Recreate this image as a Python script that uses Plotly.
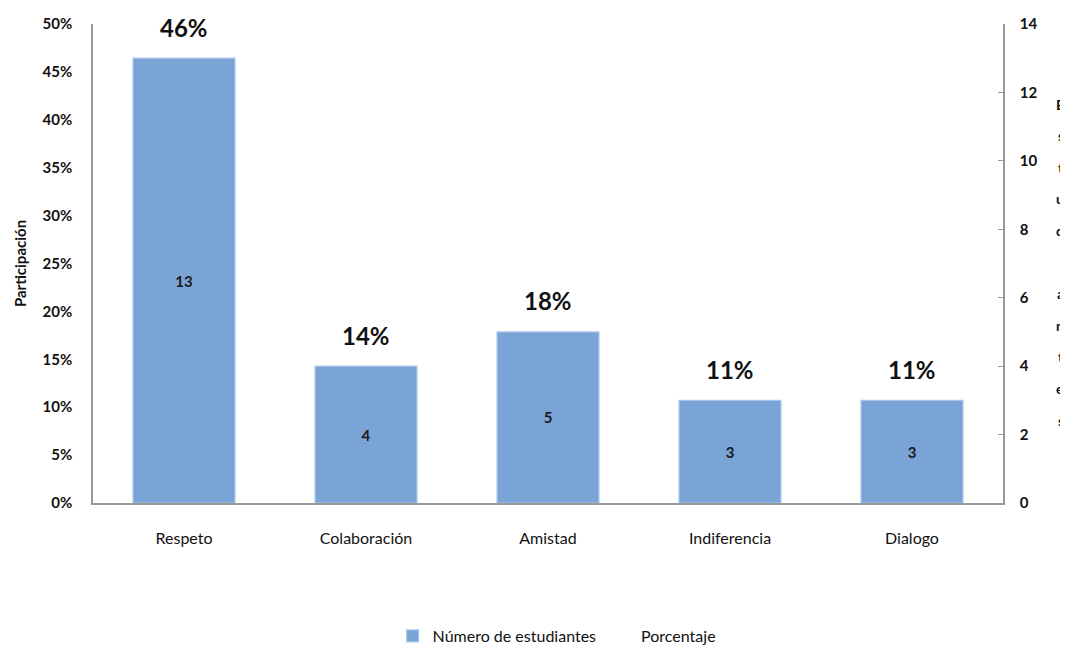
import plotly.graph_objects as go

categories = ["Respeto", "Colaboración", "Amistad", "Indiferencia", "Dialogo"]
students = [13, 4, 5, 3, 3]
total = sum(students)
percent = [s / total for s in students]
percent_labels = ["46%", "14%", "18%", "11%", "11%"]
right_title = "Estudiantes"

FONT = "Lato, 'Open Sans', sans-serif"
BAR = "#7aa3d6"

# page body has an 8px margin; figure sized to fit the 1068x645 window
OFF = 8
W, H = 1068 - OFF, 645 - OFF
ml, mr, mt, mb = 93 - OFF, 65, 24 - OFF, 142
pw, ph = W - ml - mr, H - mt - mb

fig = go.Figure()
fig.add_trace(go.Bar(
    x=categories, y=students, yaxis="y2", name="Número de estudiantes",
    marker=dict(color=BAR, line=dict(color="#a9c6ea", width=1.2)),
    width=0.56,
    text=[str(s) for s in students], textposition="inside",
    insidetextanchor="middle",
    textfont=dict(family=FONT, size=15, color="#1a1a1a", weight="bold"),
))
fig.add_trace(go.Scatter(
    x=categories, y=percent, yaxis="y", name="Porcentaje",
    mode="lines", line=dict(color="rgba(0,0,0,0)", width=0),
    hoverinfo="skip",
))

for c, p, lab in zip(categories, percent, percent_labels):
    fig.add_annotation(x=c, y=p, xref="x", yref="y", text=lab, showarrow=False,
                       yshift=31, font=dict(family=FONT, size=24, color="#111", weight="bold"))

for i, ch in enumerate(right_title):
    ypx = 104 + i * 31.6 - OFF
    fig.add_annotation(x=(1066 - OFF - ml) / pw, y=(H - ypx - mb) / ph, xref="paper", yref="paper",
                       text=ch, showarrow=False, xanchor="right", yanchor="middle",
                       font=dict(family=FONT, size=14, color="#111", weight="bold"))

fig.update_layout(
    width=W, height=H,
    margin=dict(l=ml, r=mr, t=mt, b=mb, autoexpand=False),
    plot_bgcolor="white", paper_bgcolor="white",
    font=dict(family=FONT, color="#111"),
    showlegend=True,
    legend=dict(orientation="h", x=0.51, xanchor="center", y=-(636 - 503) / ph, yanchor="middle",
                font=dict(family=FONT, size=16, color="#111"), itemwidth=30),
    xaxis=dict(showline=True, linecolor="#9a9a9a", linewidth=1.5, ticks="",
               tickfont=dict(family=FONT, size=16, color="#111"), ticklabelstandoff=20,
               showgrid=False),
    yaxis=dict(range=[0, 0.5], dtick=0.05, tickformat=".0%", showline=True,
               linecolor="#9a9a9a", linewidth=1.5, ticks="", showgrid=False, zeroline=False,
               tickfont=dict(family=FONT, size=15, color="#111", weight="bold"),
               ticklabelstandoff=16,
               title=dict(text="Participación", font=dict(family=FONT, size=15, color="#111", weight="bold"), standoff=12)),
    yaxis2=dict(range=[0, 14], dtick=2, overlaying="y", side="right", showline=True,
                linecolor="#9a9a9a", linewidth=1.5, ticks="inside", ticklen=5, tickcolor="#9a9a9a",
                showgrid=False, zeroline=False,
                tickfont=dict(family=FONT, size=15, color="#111", weight="bold"),
                ticklabelstandoff=12),
)

fig.write_html("out.html")
